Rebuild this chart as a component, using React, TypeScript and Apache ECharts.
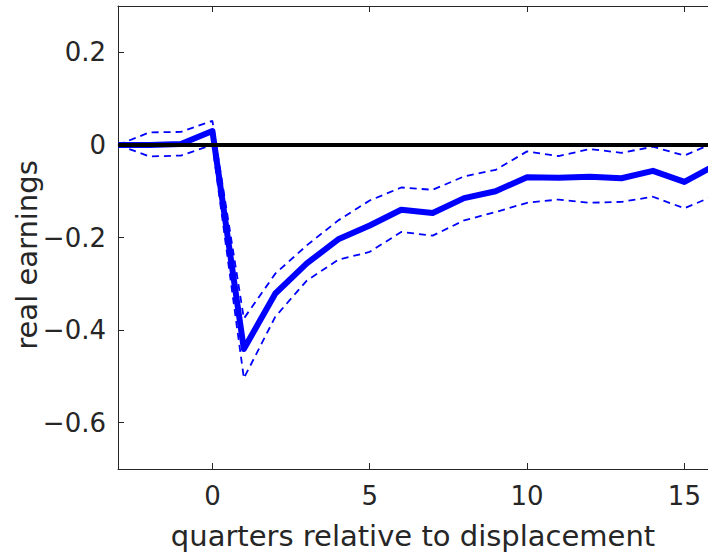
import React, { useEffect, useRef } from "react";
import * as echarts from "echarts";

const quarters = [-3, -2, -1, 0, 1, 2, 3, 4, 5, 6, 7, 8, 9, 10, 11, 12, 13, 14, 15, 16];
const mainEst = [0, 0, 0.002, 0.03, -0.441, -0.321, -0.256, -0.204, -0.174, -0.14, -0.147, -0.115, -0.1, -0.07, -0.071, -0.069, -0.072, -0.056, -0.08, -0.043];
const upperCI = [0, 0.027, 0.028, 0.052, -0.375, -0.278, -0.217, -0.163, -0.12, -0.092, -0.097, -0.068, -0.054, -0.014, -0.024, -0.009, -0.017, -0.004, -0.023, 0.006];
const lowerCI = [0, -0.025, -0.023, 0.0, -0.504, -0.371, -0.293, -0.248, -0.231, -0.188, -0.196, -0.163, -0.145, -0.125, -0.118, -0.125, -0.123, -0.112, -0.137, -0.108];
const xTicks = [0, 5, 10, 15];
const yTicks = [-0.6, -0.4, -0.2, 0, 0.2];
const zeroLine = [
  [-3, 0],
  [16, 0],
];
const xTitle = "quarters relative to displacement";
const yTitle = "real earnings";

const axisColor = "#262626";
const font = "DejaVu Sans";

function fmtY(v: number): string {
  if (Math.abs(v) < 1e-9) return "0";
  const s = Math.abs(v).toFixed(1);
  return v < 0 ? "\u2212" + s : s;
}

export default function App() {
  const ref = useRef<HTMLDivElement>(null);
  useEffect(() => {
    document.body.style.margin = "0";
    const chart = echarts.init(ref.current!, null, { renderer: "svg" });
    const pair = (ys: number[]) => quarters.map((x, i) => [x, ys[i]]);
    chart.setOption({
      animation: false,
      backgroundColor: "#ffffff",
      grid: { left: 118, top: 6, right: 0, bottom: 84, containLabel: false },
      graphic: [
        {
          type: "text",
          x: 27,
          y: 255,
          rotation: Math.PI / 2,
          style: {
            text: yTitle,
            fontFamily: font,
            fontSize: 29,
            fill: axisColor,
            textAlign: "center",
            textVerticalAlign: "middle",
          },
        },
      ],
      xAxis: [
        {
          type: "value",
          min: -3,
          max: 15.75,
          position: "bottom",
          name: xTitle,
          nameLocation: "middle",
          nameGap: 52,
          nameTextStyle: { fontFamily: font, fontSize: 29, color: axisColor },
          axisLine: { show: true, onZero: false, lineStyle: { color: axisColor, width: 1 } },
          axisTick: { show: true, inside: true, length: 6, customValues: xTicks, lineStyle: { color: axisColor } },
          axisLabel: { show: true, customValues: xTicks, margin: 14, fontFamily: font, fontSize: 26, color: axisColor },
          splitLine: { show: false },
        },
        {
          type: "value",
          min: -3,
          max: 15.75,
          position: "top",
          axisLine: { show: true, onZero: false, lineStyle: { color: axisColor, width: 1 } },
          axisTick: { show: true, inside: true, length: 6, customValues: xTicks, lineStyle: { color: axisColor } },
          axisLabel: { show: false },
          splitLine: { show: false },
        },
      ],
      yAxis: {
        type: "value",
        min: -0.7,
        max: 0.3,
        axisLine: { show: true, onZero: false, lineStyle: { color: axisColor, width: 1 } },
        axisTick: { show: true, inside: true, length: 6, customValues: yTicks, lineStyle: { color: axisColor } },
        axisLabel: {
          show: true,
          customValues: yTicks,
          margin: 12,
          fontFamily: font,
          fontSize: 26,
          color: axisColor,
          formatter: (v: number) => fmtY(v),
        },
        splitLine: { show: false },
      },
      series: [
        {
          name: "estimate",
          type: "line",
          data: pair(mainEst),
          showSymbol: false,
          lineStyle: { color: "#0000ff", width: 6, join: "round" },
          z: 3,
        },
        {
          name: "upper",
          type: "line",
          data: pair(upperCI),
          showSymbol: false,
          lineStyle: { color: "#0000ff", width: 1.8, type: [7, 5] },
          z: 4,
        },
        {
          name: "lower",
          type: "line",
          data: pair(lowerCI),
          showSymbol: false,
          lineStyle: { color: "#0000ff", width: 1.8, type: [7, 5] },
          z: 4,
        },
        {
          name: "zero",
          type: "line",
          data: zeroLine,
          showSymbol: false,
          lineStyle: { color: "#000000", width: 4 },
          z: 5,
        },
      ],
    });
    return () => chart.dispose();
  }, []);
  return (
    <div
      ref={ref}
      style={{ position: "absolute", left: 0, top: 0, width: 708, height: 555 }}
    />
  );
}
